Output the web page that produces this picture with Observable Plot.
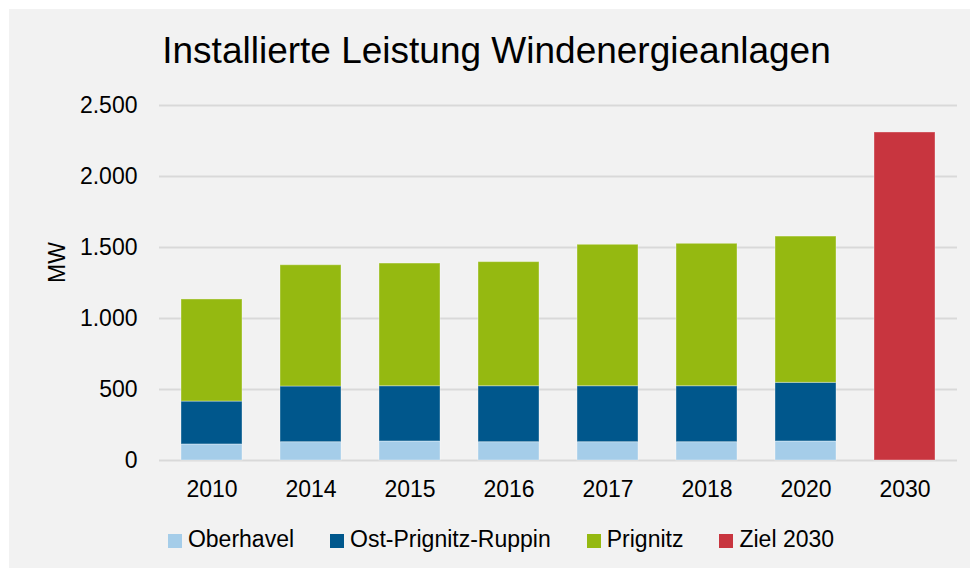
<!DOCTYPE html>
<html>
<head>
<meta charset="utf-8">
<script src="https://cdn.jsdelivr.net/npm/d3@7"></script>
<script src="https://cdn.jsdelivr.net/npm/@observablehq/plot@0.6"></script>
<style>
  html, body { margin: 0; padding: 0; background: #fff; }
  body { width: 970px; height: 568px; position: relative; overflow: hidden;
         font-family: "Liberation Sans", Arial, sans-serif; color: #000; }
  #panel { position: absolute; left: 9px; top: 9px; width: 961px; height: 559px; background: #f2f2f2; }
  #title { position: absolute; left: 0; width: 993px; top: 32px; text-align: center;
           font-size: 37px; line-height: 1; white-space: nowrap; }
  #chart { position: absolute; left: 0; top: 90px; }
  #legend { position: absolute; left: 0; width: 1002px; top: 528px; display: flex; justify-content: center;
            font-size: 23px; line-height: 1; white-space: nowrap; }
  .item { display: flex; align-items: center; margin: 0 18px; }
  .sw { width: 14px; height: 14px; margin-right: 6px; margin-top: 2px; }
</style>
</head>
<body>
<div id="panel"></div>
<div id="title">Installierte Leistung Windenergieanlagen</div>
<div id="chart"></div>
<div id="legend"></div>
<script>
const years = ["2010", "2014", "2015", "2016", "2017", "2018", "2020", "2030"];
const oberhavel = [113, 129, 134, 129, 129, 129, 134, null];
const ostPrignitzRuppin = [302, 392, 389, 394, 394, 394, 413, null];
const prignitz = [719, 854, 864, 874, 996, 1003, 1030, null];
const ziel2030 = [null, null, null, null, null, null, null, 2310];
const seriesNames = ["Oberhavel", "Ost-Prignitz-Ruppin", "Prignitz", "Ziel 2030"];
const seriesColors = ["#a5cde9", "#00578c", "#95b911", "#c8353f"];
const yTicks = [0, 500, 1000, 1500, 2000, 2500];

const seriesValues = [oberhavel, ostPrignitzRuppin, prignitz, ziel2030];
const table = [];
seriesNames.forEach((s, si) => {
  years.forEach((y, i) => {
    const v = seriesValues[si][i];
    if (v != null) table.push({year: y, series: s, value: v});
  });
});

const de = d3.formatLocale({decimal: ",", thousands: ".", grouping: [3], currency: ["", " €"]});
const fmt = de.format(",");

const chart = Plot.plot({
  width: 970,
  height: 420,
  marginTop: 15,
  marginBottom: 50,
  marginLeft: 159,
  marginRight: 13,
  style: {background: "transparent", fontFamily: "'Liberation Sans', Arial, sans-serif", fontSize: "23px", color: "#000", overflow: "visible"},
  x: {domain: years, paddingInner: 0.38, paddingOuter: 0.19, label: null, tickSize: 0, tickPadding: 20},
  y: {domain: [0, 2500], ticks: yTicks, tickFormat: fmt, label: null, tickSize: 0, tickPadding: 22},
  color: {domain: seriesNames, range: seriesColors},
  marks: [
    Plot.ruleY(yTicks, {stroke: "#d9d9d9", strokeWidth: 2}),
    Plot.barY(table, {x: "year", y: "value", fill: "series", stroke: "#ffffff", strokeOpacity: 0.35, strokeWidth: 1, order: seriesNames}),
    Plot.text(["MW"], {text: d => d, frameAnchor: "left", dx: -102, rotate: -90, fontSize: 23, fill: "#000"})
  ]
});
document.getElementById("chart").appendChild(chart);

const legend = document.getElementById("legend");
seriesNames.forEach((s, i) => {
  const it = document.createElement("div");
  it.className = "item";
  const sw = document.createElement("div");
  sw.className = "sw";
  sw.style.background = seriesColors[i];
  const t = document.createElement("span");
  t.textContent = s;
  it.appendChild(sw);
  it.appendChild(t);
  legend.appendChild(it);
});
</script>
</body>
</html>
